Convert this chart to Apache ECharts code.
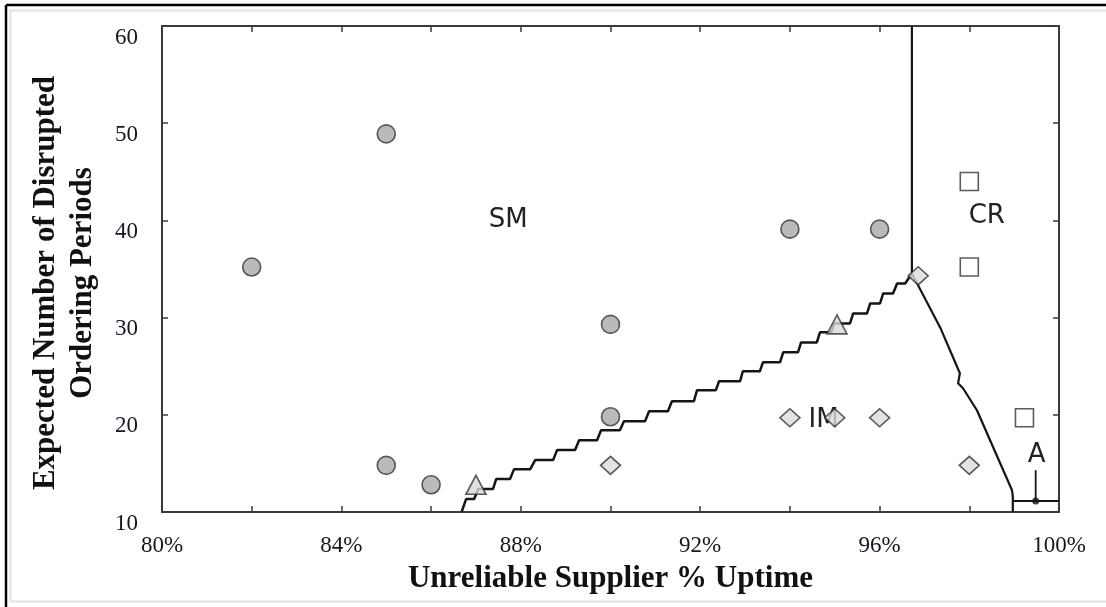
<!DOCTYPE html>
<html>
<head>
<meta charset="utf-8">
<script src="https://cdn.jsdelivr.net/npm/echarts@6/dist/echarts.min.js"></script>
<style>
html,body{margin:0;padding:0;background:#fff;}
#chart{width:1106px;height:607px;}
</style>
</head>
<body>
<div id="chart"></div>
<script>
// ---- data ----
const xTickLabels = {80:'80%',84:'84%',88:'88%',92:'92%',96:'96%',100:'100%'};
const yTickLabels = {10:'10',20:'20',30:'30',40:'40',50:'50',60:'60'};

const circles   = [[82,35.2],[85,48.9],[85,14.8],[86,12.8],[90,29.3],[90,19.8],[94,39.1],[96,39.1]];
const triangles = [[87,12.8],[95.05,29.3]];
const diamonds  = [[90,14.8],[94,19.7],[95,19.7],[96,19.7],[98,14.8],[96.86,34.3]];
const squares   = [[98,44],[98,35.2],[99.23,19.7]];

const staircase = [
  [86.68,10.00],[86.78,11.33],[86.96,11.33],[87.05,12.36],[87.38,12.36],
  [87.45,13.39],[87.76,13.39],[87.85,14.41],[88.21,14.41],
  [88.32,15.34],[88.72,15.34],[88.81,16.37],[89.21,16.37],
  [89.30,17.39],[89.70,17.39],[89.79,18.42],[90.21,18.42],
  [90.30,19.34],[90.77,19.34],[90.86,20.37],[91.28,20.37],
  [91.37,21.40],[91.86,21.40],[91.93,22.53],[92.35,22.53],
  [92.42,23.45],[92.89,23.45],[92.95,24.48],[93.33,24.48],
  [93.40,25.40],[93.78,25.40],[93.85,26.43],[94.18,26.43],
  [94.25,27.45],[94.60,27.45],[94.67,28.48],[94.92,28.48],
  [94.99,29.40],[95.34,29.40],[95.41,30.43],[95.72,30.43],
  [95.79,31.46],[96.01,31.46],[96.08,32.48],[96.30,32.48],
  [96.39,33.51],[96.57,33.51],[96.72,34.54]
];
const verticalBoundary = [[96.72,34.54],[96.72,60]];
const descendingBoundary = [[96.72,34.54],[97.35,28.99],[97.79,24.27],[97.75,23.24],[97.86,22.73],[98.17,20.47],[98.95,12.26],[98.97,11.64],[98.97,10]];
const aBoundary = [[98.97,11.13],[100,11.13]];
const arrowLine = [[99.48,14.3],[99.48,11.13]];
const arrowHead = [[99.48,11.13]];

const regionNames = ['SM','CR','IM','A'];
const regionX = [87.72, 98.39, 94.75, 99.5];
const regionY = [39.98, 40.39, 19.4, 15.85];

// ---- chart ----
const chart = echarts.init(document.getElementById('chart'), null, {renderer:'canvas'});
const axisColor = '#3a3a3a';
const serif = '"Liberation Serif", "Times New Roman", serif';
const sans = '"DejaVu Sans", "Liberation Sans", Arial, sans-serif';

function lineSeries(data, w){
  return {type:'line', data:data, showSymbol:false, symbol:'none', silent:true,
    lineStyle:{color:'#151515', width:w||2.3}, animation:false, z:2};
}

const option = {
  animation:false,
  backgroundColor:'#fff',
  grid:{left:162, right:47, top:26, bottom:95},
  graphic:[
    {type:'line', shape:{x1:6, y1:5, x2:1106, y2:5}, style:{stroke:'#000', lineWidth:2.5}},
    {type:'line', shape:{x1:6, y1:5, x2:6, y2:607}, style:{stroke:'#000', lineWidth:2.5}},
    {type:'rect', shape:{x:10.5, y:10.5, width:1100, height:591}, style:{fill:'none', stroke:'#e2e2e2', lineWidth:2}}
  ],
  xAxis:[{
    type:'value', min:80, max:100, interval:2,
    name:'Unreliable Supplier % Uptime', nameLocation:'middle', nameGap:51,
    nameTextStyle:{fontFamily:serif, fontWeight:'bold', fontSize:31, color:'#111'},
    axisLine:{show:true, onZero:false, lineStyle:{color:axisColor, width:2}},
    axisTick:{show:true, inside:true, length:6, lineStyle:{color:axisColor, width:1.5}},
    axisLabel:{margin:22, fontFamily:serif, fontSize:23, color:'#151525',
      formatter:v => xTickLabels[v] || ''},
    splitLine:{show:false}
  },{
    type:'value', min:80, max:100, interval:2, position:'top',
    axisLine:{show:true, onZero:false, lineStyle:{color:axisColor, width:2}},
    axisTick:{show:true, inside:true, length:6, lineStyle:{color:axisColor, width:1.5}},
    axisLabel:{show:false}, splitLine:{show:false}
  }],
  yAxis:[{
    type:'value', min:10, max:60, interval:10,
    name:'Expected Number of Disrupted\nOrdering Periods', nameLocation:'middle', nameGap:61,
    nameTextStyle:{fontFamily:serif, fontWeight:'bold', fontSize:31, color:'#111', lineHeight:37, padding:[0,28,0,0]},
    axisLine:{show:true, onZero:false, lineStyle:{color:axisColor, width:2}},
    axisTick:{show:true, inside:true, length:6, lineStyle:{color:axisColor, width:1.5}},
    axisLabel:{margin:24, fontFamily:serif, fontSize:23, color:'#151525', verticalAlign:'top',
      formatter:v => yTickLabels[v] || ''},
    splitLine:{show:false}
  },{
    type:'value', min:10, max:60, interval:10, position:'right',
    axisLine:{show:true, onZero:false, lineStyle:{color:axisColor, width:2}},
    axisTick:{show:true, inside:true, length:6, lineStyle:{color:axisColor, width:1.5}},
    axisLabel:{show:false}, splitLine:{show:false}
  }],
  series:[
    lineSeries(staircase, 2.5),
    lineSeries(verticalBoundary, 2.2),
    lineSeries(descendingBoundary, 2.2),
    lineSeries(aBoundary, 2),
    lineSeries(arrowLine, 1.8),
    {type:'scatter', data:arrowHead, symbol:'circle', symbolSize:7, silent:true,
      itemStyle:{color:'#111'}, z:3},
    {type:'scatter', data:circles, symbol:'circle', symbolSize:18, silent:true, z:5,
      itemStyle:{color:'#a9a9a9', borderColor:'#333', borderWidth:1.6}},
    {type:'scatter', data:triangles, symbol:'triangle', symbolSize:[20,19], silent:true, z:5,
      itemStyle:{color:'#d9d9d9', borderColor:'#333', borderWidth:1.6}},
    {type:'scatter', data:diamonds, symbol:'diamond', symbolSize:[20,18], silent:true, z:5,
      itemStyle:{color:'#dcdcdc', borderColor:'#333', borderWidth:1.6}},
    {type:'scatter', data:squares, symbol:'rect', symbolSize:18, silent:true, z:5,
      itemStyle:{color:'#ffffff', borderColor:'#333', borderWidth:1.6}},
    {type:'scatter', data:regionNames.map((n,i)=>({name:n, value:[regionX[i], regionY[i]]})),
      symbol:'circle', symbolSize:2, itemStyle:{color:'rgba(0,0,0,0)'}, silent:true, z:4,
      label:{show:true, position:'inside', formatter:p=>p.name, fontFamily:sans, fontWeight:500, fontSize:26, color:'#222', opacity:1}}
  ]
};
chart.setOption(option);
</script>
</body>
</html>
